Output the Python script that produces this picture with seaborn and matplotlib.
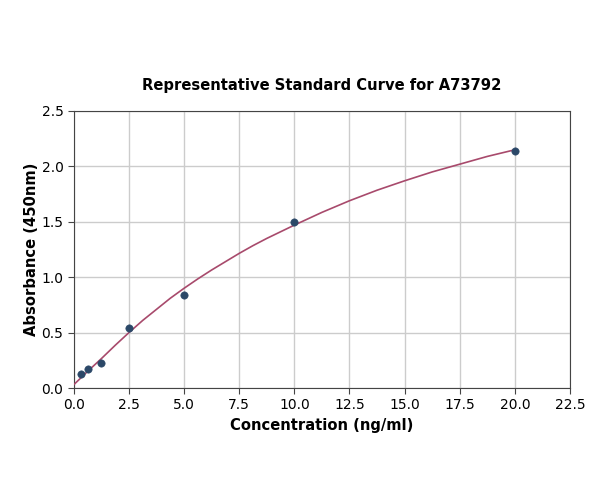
import matplotlib
matplotlib.use('Agg')
import matplotlib.pyplot as plt
import seaborn as sns
import pandas as pd

# standaard punten
conc = [0.3125, 0.625, 1.25, 2.5, 5, 10, 20]
absorb = [0.126, 0.171, 0.228, 0.541, 0.835, 1.497, 2.14]

# curve
curve_x = [0, 0.625, 1.25, 1.875, 2.5, 3.125, 3.75, 4.375, 5, 5.625, 6.25, 6.875,
           7.5, 8.125, 8.75, 9.375, 10, 11.25, 12.5, 13.75, 15, 16.25, 17.5, 18.75, 20]
curve_y = [0.03, 0.15, 0.265, 0.385, 0.50, 0.61, 0.71, 0.81, 0.90, 0.985, 1.065, 1.14,
           1.215, 1.285, 1.35, 1.41, 1.47, 1.585, 1.69, 1.785, 1.87, 1.95, 2.02, 2.09, 2.15]

pts = pd.DataFrame({'conc': conc, 'abs': absorb})
crv = pd.DataFrame({'x': curve_x, 'y': curve_y})

sns.set_style('ticks')
plt.rcParams['font.family'] = ['DejaVu Sans']
plt.rcParams['text.color'] = 'black'
plt.rcParams['axes.labelcolor'] = 'black'
plt.rcParams['xtick.color'] = 'black'
plt.rcParams['ytick.color'] = 'black'

fig = plt.figure(figsize=(6, 5), dpi=100)
ax = fig.add_axes([0.123, 0.224, 0.827, 0.554])

sns.lineplot(data=crv, x='x', y='y', ax=ax, color='#a84a6c', linewidth=1.2, zorder=3)
sns.scatterplot(data=pts, x='conc', y='abs', ax=ax, color='#2b4868', s=28,
                edgecolor='#2b4868', zorder=4)

ax.set_xlim(0, 22.5)
ax.set_ylim(0, 2.5)
ax.set_xticks([0, 2.5, 5, 7.5, 10, 12.5, 15, 17.5, 20, 22.5])
ax.set_yticks([0, 0.5, 1.0, 1.5, 2.0, 2.5])
ax.grid(True, color='#cccccc', linewidth=1)
ax.set_axisbelow(True)
for s in ax.spines.values():
    s.set_color('#444444')
ax.tick_params(labelsize=10, color='#444444', length=4)

ax.set_title('Representative Standard Curve for A73792', fontsize=10.6,
             fontweight='bold', pad=15, color='black')
ax.set_xlabel('Concentration (ng/ml)', fontsize=10.6, fontweight='bold')
ax.set_ylabel('Absorbance (450nm)', fontsize=10.6, fontweight='bold', labelpad=2)

fig.savefig('out.png', dpi=100)
